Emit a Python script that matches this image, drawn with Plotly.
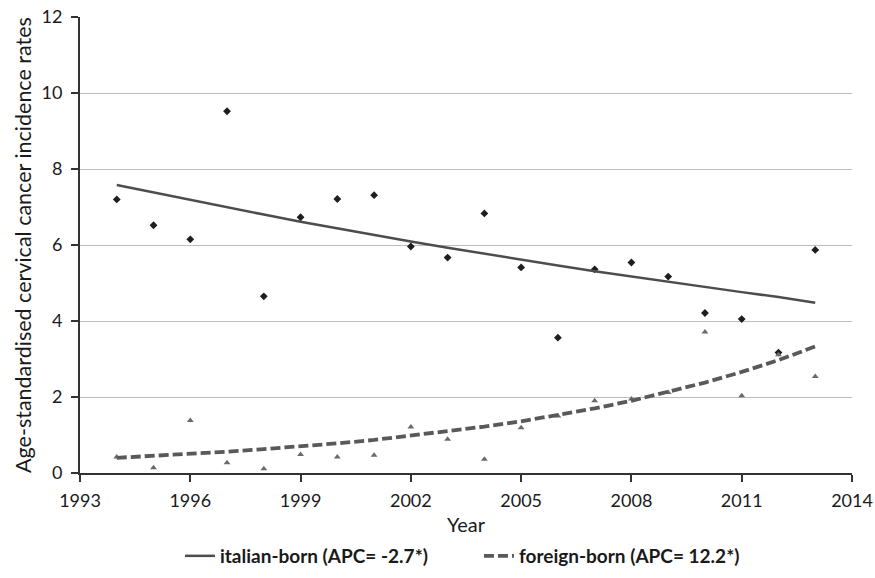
import plotly.graph_objects as go

years = list(range(1994, 2014))
italian_rates = [7.20, 6.52, 6.15, 9.52, 4.65, 6.73, 7.21, 7.31, 5.96, 5.67,
                 6.83, 5.41, 3.56, 5.36, 5.54, 5.17, 4.21, 4.05, 3.17, 5.87]
foreign_rates = [0.42, 0.14, 1.38, 0.27, 0.11, 0.49, 0.42, 0.47, 1.21, 0.89,
                 0.36, 1.19, 1.50, 1.90, 1.95, 2.12, 3.71, 2.03, 3.11, 2.54]
italian_trend = [7.58, 7.38, 7.18, 6.98, 6.80, 6.61, 6.43, 6.26, 6.09, 5.93,
                 5.77, 5.61, 5.46, 5.31, 5.17, 5.03, 4.89, 4.76, 4.63, 4.48]
foreign_trend = [0.40, 0.45, 0.50, 0.56, 0.63, 0.70, 0.78, 0.87, 0.98, 1.09,
                 1.22, 1.36, 1.52, 1.70, 1.90, 2.13, 2.38, 2.66, 2.97, 3.33]
x_ticks = [1993, 1996, 1999, 2002, 2005, 2008, 2011, 2014]
y_ticks = [0, 2, 4, 6, 8, 10, 12]

FONT = "Lato, 'Open Sans', sans-serif"

fig = go.Figure()
fig.add_trace(go.Scatter(x=years, y=italian_rates, mode="markers", showlegend=False,
                         marker=dict(symbol="diamond", size=6, color="#1e1e1e")))
fig.add_trace(go.Scatter(x=years, y=foreign_rates, mode="markers", showlegend=False,
                         marker=dict(symbol="triangle-up", size=6, color="#6a6a6a")))
fig.add_trace(go.Scatter(x=years, y=italian_trend, mode="lines",
                         name="<b>italian-born (APC= -2.7*)</b>",
                         line=dict(color="#4d4d4d", width=2.5)))
fig.add_trace(go.Scatter(x=years, y=foreign_trend, mode="lines",
                         name="<b>foreign-born (APC= 12.2*)</b>",
                         line=dict(color="#595959", width=3.8, dash="10px,4px")))

fig.update_layout(
    width=875, height=578,
    margin=dict(l=80, r=23, t=17, b=105, autoexpand=False),
    paper_bgcolor="white", plot_bgcolor="white",
    font=dict(family=FONT, size=18, color="#1a1a1a"),
    xaxis=dict(range=[1993, 2014], tickvals=x_ticks, ticks="outside", ticklen=7,
               tickcolor="#333", tickwidth=1.5, showline=True, linecolor="#333",
               linewidth=1.8, showgrid=False, zeroline=False, automargin=False,
               tickfont=dict(size=18), ticklabelstandoff=3),
    yaxis=dict(range=[0, 12], tickvals=y_ticks, ticks="outside", ticklen=7,
               tickcolor="#333", tickwidth=1.5, showline=True, linecolor="#333",
               linewidth=1.8, showgrid=True, gridcolor="#bdbdbd", gridwidth=1.2,
               zeroline=False, automargin=False, tickfont=dict(size=18),
               ticklabelstandoff=5),
    legend=dict(orientation="h", xref="paper", x=0.1295, xanchor="left",
                y=-0.182, yanchor="middle",
                font=dict(size=19, color="#1a1a1a"), entrywidth=254,
                entrywidthmode="pixels"),
    annotations=[
        dict(text="Age-standardised cervical cancer incidence rates", textangle=-90,
             xref="paper", yref="paper", x=-0.0738, y=0.5, xanchor="center",
             yanchor="middle", showarrow=False, font=dict(size=21.5, color="#1a1a1a")),
        dict(text="Year", xref="paper", yref="paper", x=0.5, y=-0.1118,
             xanchor="center", yanchor="middle", showarrow=False,
             font=dict(size=20, color="#1a1a1a")),
    ],
)

fig.write_html("out.html")
